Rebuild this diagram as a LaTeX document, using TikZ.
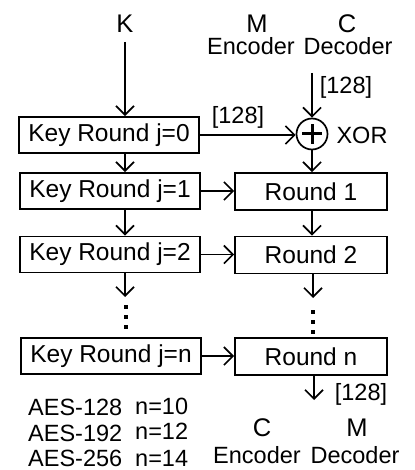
\documentclass[tikz,border=0pt]{standalone}
\usepackage{fontspec}
\setmainfont{Liberation Sans}
\usetikzlibrary{arrows.meta}

\begin{document}
\begin{tikzpicture}[
    x=1pt, y=1pt,
    font=\fontsize{23.5}{28}\selectfont,
    line width=1.7pt,
    keybox/.style={draw, minimum width=180pt, minimum height=36pt, inner sep=0pt,
                   font=\fontsize{24.5}{28}\selectfont},
    rbox/.style={draw, minimum width=152pt, minimum height=37pt, inner sep=0pt,
                 font=\fontsize{24.5}{28}\selectfont},
    big/.style={font=\fontsize{25.5}{28}\selectfont},
    arr/.style={-{Straight Barb[length=9pt, width=18pt]}},
    dot/.style={fill, inner sep=0pt, minimum size=3.8pt}
]
    \useasboundingbox (0,0) rectangle (414,-470);

    % Coordinates
    \coordinate (kin)   at (125,-42);
    \coordinate (cin)   at (312,-73);
    \coordinate (kdots) at (125,-297);
    \coordinate (rdots) at (313,-298);
    \coordinate (cout)  at (314,-400);

    % Key schedule (left)
    \node[keybox] (k0) at (109,-135) {Key Round j=0};
    \node[keybox] (k1) at (110,-191) {Key Round j=1};
    \node[keybox] (k2) at (110,-254.5) {Key Round j=2};
    \node[keybox] (kn) at (111,-356) {Key Round j=n};

    % Rounds (right)
    \node[circle, draw, minimum size=31pt, inner sep=0pt] (xor) at (312,-134) {};
    \draw[line width=3pt] ([xshift=-10pt]xor.center) -- ([xshift=10pt]xor.center)
                          ([yshift=-10pt]xor.center) -- ([yshift=10pt]xor.center);
    \node[rbox] (r1) at (311,-191.5) {Round 1};
    \node[rbox] (r2) at (311,-255) {Round 2};
    \node[rbox] (rn) at (311,-356.5) {Round n};

    % Dots
    \foreach \y in {307,317,327} \node[dot] (kd\y) at (126,-\y) {};
    \foreach \y in {312,322,332} \node[dot] (rd\y) at (313,-\y) {};

    % Vertical arrows
    \draw[arr] (kin) -- (k0.north -| kin);
    \draw[arr] (k0.south -| kin) -- (k1.north -| kin);
    \draw[arr] (k1.south -| kin) -- (k2.north -| kin);
    \draw[arr] (k2.south -| kin) -- (kdots);
    \draw[arr] (cin) -- (xor.north);
    \draw[arr] (xor.south) -- (r1.north -| xor);
    \draw[arr] (r1.south -| xor) -- (r2.north -| xor);
    \draw[arr] (r2.south -| rdots) -- (rdots);
    \draw[arr] (rn.south -| cout) -- (cout);

    % Horizontal arrows
    \draw[arr] (k0.east) -- (xor.west |- k0.east);
    \draw[arr] (k1.east) -- (r1.west |- k1.east);
    \draw[arr] (k2.east) -- (r2.west |- k2.east);
    \draw[arr] (kn.east) -- (rn.west |- kn.east);

    % Labels (top)
    \node[big] (lk) at (125,-24) {K};
    \node[big] (lm) at (257,-24) {M};
    \node[big] (lc) at (347,-24) {C};
    \node (lenc) at (251,-46) {Encoder};
    \node (ldec) at (348,-46) {Decoder};
    \node (b1)   at (346,-87) {[128]};
    \node (b2)   at (238,-117) {[128]};
    \node (lxor) at (362,-135) {XOR};

    % Labels (bottom)
    \node (b3)        at (361,-394) {[128]};
    \node[big] (lc2)  at (262,-428) {C};
    \node[big] (lm2)  at (357,-428) {M};
    \node (lenc2) at (257,-455) {Encoder};
    \node (ldec2) at (355,-455) {Decoder};

    % AES variants
    \node[anchor=west] (a1) at (24,-407) {AES-128};
    \node[anchor=west] (a2) at (24,-433) {AES-192};
    \node[anchor=west] (a3) at (24,-458) {AES-256};
    \node[anchor=west] (n1) at (131,-406) {n=10};
    \node[anchor=west] (n2) at (131,-431) {n=12};
    \node[anchor=west] (n3) at (131,-458) {n=14};

\end{tikzpicture}
\end{document}
